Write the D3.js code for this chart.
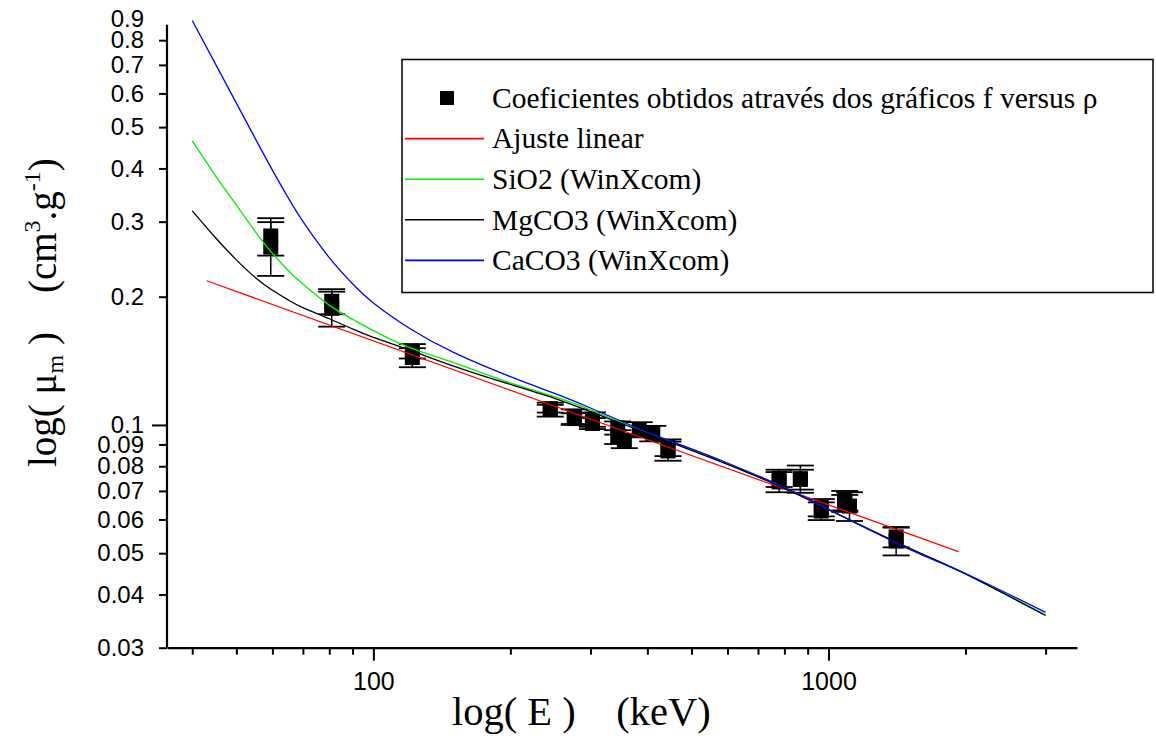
<!DOCTYPE html>
<html>
<head>
<meta charset="utf-8">
<script src="https://cdn.jsdelivr.net/npm/d3@7"></script>
<style>
  html, body { margin: 0; padding: 0; background: #fff; }
  svg { display: block; }
  .tick text { font-family: "Liberation Sans", Arial, sans-serif; font-size: 25px; fill: #000; }
  .serif { font-family: "Liberation Serif", "Times New Roman", serif; fill: #000; }
</style>
</head>
<body>
<svg id="chart" width="1156" height="736"></svg>
<script>
// Measured mass attenuation coefficients (keV, cm²/g) with their uncertainties
const pointEnergy = [59.5, 59.5, 81, 81, 121.8, 121.8, 244.7, 244.7, 276.4, 276.4,
                     302.9, 302.9, 344.3, 344.3, 356, 383.8, 411.1, 444, 444,
                     778.9, 778.9, 867.4, 867.4, 964.1, 964.1, 1085.8, 1085.8, 1112.1, 1408, 1408];
const pointMu     = [0.2777, 0.2615, 0.1951, 0.1878, 0.149, 0.144, 0.1092, 0.1087, 0.1044, 0.1035,
                     0.103, 0.1008, 0.0984, 0.0937, 0.0917, 0.0975, 0.0955, 0.0885, 0.0869,
                     0.075, 0.0735, 0.0748, 0.0745, 0.064, 0.0628, 0.0665, 0.0655, 0.0645, 0.0546, 0.0534];
const pointErr    = [0.028, 0.0377, 0.0132, 0.0177, 0.0058, 0.0074, 0.0023, 0.0041, 0.0044, 0.003,
                     0.004, 0.003, 0.0035, 0.0035, 0.0035, 0.004, 0.004, 0.004, 0.0045,
                     0.0035, 0.004, 0.0055, 0.004, 0.003, 0.003, 0.0035, 0.003, 0.005, 0.003, 0.004];

// WinXcom reference curves
const xcomEnergy = [40, 45, 50, 55, 60, 65, 70, 80, 90, 100, 120, 150, 200, 250, 300,
                    400, 500, 600, 800, 1000, 1500, 2000, 3000];
const sio2Mu  = [0.464, 0.3843, 0.3281, 0.2844, 0.2528, 0.2305, 0.2141, 0.1911, 0.177, 0.1665, 0.152, 0.140, 0.1255, 0.1165, 0.1085,
                 0.0958, 0.0876, 0.081, 0.0712, 0.0634, 0.0514, 0.0447, 0.0358];
const mgco3Mu = [0.318, 0.275, 0.244, 0.2218, 0.207, 0.1965, 0.1885, 0.1775, 0.168, 0.1605, 0.150, 0.1375, 0.1245, 0.1155, 0.1075,
                 0.0955, 0.0872, 0.0808, 0.0710, 0.0633, 0.0515, 0.0447, 0.0357];
const caco3Mu = [0.89, 0.703, 0.5695, 0.4706, 0.3964, 0.3412, 0.3003, 0.247, 0.2145, 0.1934, 0.1687, 0.148, 0.1298, 0.1186, 0.1096,
                 0.0962, 0.0879, 0.0814, 0.0714, 0.0634, 0.0512, 0.0448, 0.0363];

// Linear fit in log-log space, given by its end points
const fitEnergy = [43, 1930];
const fitMu     = [0.218, 0.0504];

// Axis ticks
const xTickValues = [40, 50, 60, 70, 80, 90, 100, 200, 300, 400, 500, 600, 700, 800, 900, 1000, 2000, 3000];
const xTickLabels = [100, 1000];
const yTickValues = [0.03, 0.04, 0.05, 0.06, 0.07, 0.08, 0.09, 0.1, 0.2, 0.3, 0.4, 0.5, 0.6, 0.7, 0.8, 0.9];
const yMajorTicks = [0.1];
const yAxisTop = 0.87;

// Legend entries
const legendLabels = ["Coeficientes obtidos através dos gráficos f versus ρ", "Ajuste linear",
                      "SiO2 (WinXcom)", "MgCO3 (WinXcom)", "CaCO3 (WinXcom)"];
const seriesColors = ["#000000", "#ff0000", "#00ee00", "#000000", "#0000ff"];

const serifFont = '"Liberation Serif", "Times New Roman", serif';
const svg = d3.select("#chart");

const x = d3.scaleLog().domain([35.2, 3516]).range([167, 1077]);
const y = d3.scaleLog().domain([0.03, 0.9]).range([647.7, 18.4]);

// ----- axes -----
const xAxis = d3.axisBottom(x)
  .tickValues(xTickValues)
  .tickFormat(d => xTickLabels.includes(d) ? d : "")
  .tickSizeOuter(0);
const gx = svg.append("g").attr("transform", `translate(0,${y(0.03)})`).call(xAxis);
gx.select(".domain").attr("stroke-width", 2.2);
gx.selectAll(".tick line")
  .attr("stroke-width", 2)
  .attr("y2", d => xTickLabels.includes(d) ? 13 : 7);
gx.selectAll(".tick text").attr("y", 25).attr("dy", "0.71em");

const yAxis = d3.axisLeft(y)
  .tickValues(yTickValues)
  .tickFormat(d3.format("~g"))
  .tickSizeOuter(0);
const gy = svg.append("g").attr("transform", `translate(${x(35.2)},0)`).call(yAxis);
gy.select(".domain").remove();
gy.append("line")
  .attr("x1", 0).attr("x2", 0)
  .attr("y1", y(0.03)).attr("y2", y(yAxisTop))
  .attr("stroke", "#000").attr("stroke-width", 2.2);
gy.selectAll(".tick line")
  .attr("stroke-width", 2)
  .attr("x2", d => d > yAxisTop ? 0 : (yMajorTicks.includes(d) ? -15 : -8));
gy.selectAll(".tick text").attr("x", -23).style("font-size", "24px");

// ----- data points with error bars -----
const points = pointEnergy.map((e, i) => ({ e, mu: pointMu[i], err: pointErr[i] }));
const capHalf = 13.5, markerSize = 15;
const gp = svg.append("g");
points.forEach(p => {
  const cx = x(p.e);
  gp.append("line")
    .attr("x1", cx).attr("x2", cx)
    .attr("y1", y(p.mu + p.err)).attr("y2", y(p.mu - p.err))
    .attr("stroke", "#000").attr("stroke-width", 1.5);
  [p.mu + p.err, p.mu - p.err].forEach(v => {
    gp.append("line")
      .attr("x1", cx - capHalf).attr("x2", cx + capHalf)
      .attr("y1", y(v)).attr("y2", y(v))
      .attr("stroke", "#000").attr("stroke-width", 1.8);
  });
  gp.append("rect")
    .attr("x", cx - markerSize / 2).attr("y", y(p.mu) - markerSize / 2)
    .attr("width", markerSize).attr("height", markerSize)
    .attr("fill", "#000");
});

// ----- curves -----
const line = d3.line().x(d => x(d[0])).y(d => y(d[1]));
const smooth = d3.line().x(d => x(d[0])).y(d => y(d[1])).curve(d3.curveNatural);

svg.append("path")
  .datum(fitEnergy.map((e, i) => [e, fitMu[i]]))
  .attr("d", line).attr("fill", "none")
  .attr("stroke", seriesColors[1]).attr("stroke-width", 1.3);

[[sio2Mu, seriesColors[2]], [mgco3Mu, seriesColors[3]], [caco3Mu, seriesColors[4]]].forEach(([mu, c]) => {
  svg.append("path")
    .datum(xcomEnergy.map((e, i) => [e, mu[i]]))
    .attr("d", smooth).attr("fill", "none")
    .attr("stroke", c).attr("stroke-width", 1.3);
});

// ----- legend -----
const lg = svg.append("g");
lg.append("rect")
  .attr("x", 402).attr("y", 59.5).attr("width", 751).attr("height", 233)
  .attr("fill", "#fff").attr("stroke", "#000").attr("stroke-width", 1.5);
legendLabels.forEach((label, i) => {
  const ry = 98 + i * 40.6;
  if (i === 0) {
    lg.append("rect").attr("x", 440).attr("y", ry - 7).attr("width", 14).attr("height", 14).attr("fill", "#000");
  } else {
    lg.append("line").attr("x1", 405).attr("x2", 484).attr("y1", ry).attr("y2", ry)
      .attr("stroke", seriesColors[i]).attr("stroke-width", 1.6);
  }
  lg.append("text").attr("class", "serif")
    .style("font-family", serifFont)
    .attr("x", 492).attr("y", ry).attr("dy", "0.33em")
    .attr("font-size", 29.5)
    .text(label);
});

// ----- axis titles -----
svg.append("text").attr("class", "serif")
  .style("font-family", serifFont)
  .attr("x", 452).attr("y", 725).attr("font-size", 40.5)
  .style("white-space", "pre")
  .text("log( E )    (keV)");

const yt = svg.append("text").attr("class", "serif")
  .style("font-family", serifFont)
  .attr("transform", "translate(56,467) rotate(-90)")
  .attr("font-size", 39)
  .style("white-space", "pre");
yt.append("tspan").text("log( μ");
yt.append("tspan").attr("font-size", 24).attr("dy", 7).text("m");
yt.append("tspan").attr("dy", -7).text(" )    (cm");
yt.append("tspan").attr("font-size", 24).attr("dy", -16).text("3");
yt.append("tspan").attr("dy", 16).text(".g");
yt.append("tspan").attr("font-size", 24).attr("dy", -16).text("-1");
yt.append("tspan").attr("dy", 16).text(")");
</script>
</body>
</html>
